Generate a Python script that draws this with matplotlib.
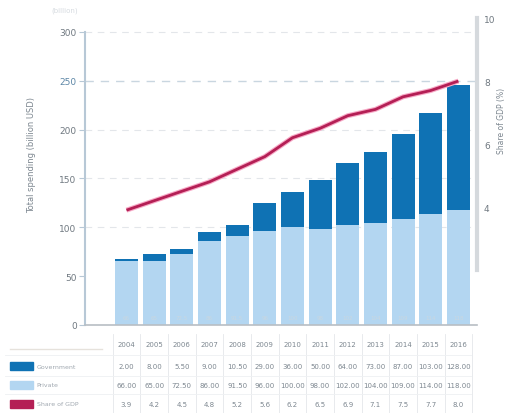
import matplotlib
matplotlib.use("Agg")
import matplotlib.pyplot as plt
import matplotlib.transforms as mtransforms
import matplotlib.patheffects as pe
import numpy as np

years = ["2004", "2005", "2006", "2007", "2008", "2009", "2010",
         "2011", "2012", "2013", "2014", "2015", "2016"]
base_values = [66, 65, 72.5, 86, 91.5, 96, 100, 98, 102, 104, 109, 114, 118]
top_values = [2, 8, 5.5, 9, 10.5, 29, 36, 50, 64, 73, 87, 103, 128]
share_values = [3.9, 4.2, 4.5, 4.8, 5.2, 5.6, 6.2, 6.5, 6.9, 7.1, 7.5, 7.7, 8.0]
left_ticks = [0, 50, 100, 150, 200, 250, 300]
right_ticks = [4, 6, 8, 10]
row_labels = ["Government", "Private", "Share of GDP"]

LIGHT = "#b3d6f1"
DARK = "#0f72b4"
LINE = "#b41f55"
TXT = "#7d8790"

fig = plt.figure(figsize=(5.09, 4.14), dpi=100)
ax = fig.add_axes([0.167, 0.2126, 0.770, 0.751])
x = np.arange(len(years))

ax.bar(x, base_values, width=0.83, color=LIGHT, edgecolor="none", zorder=2)
ax.bar(x, top_values, bottom=base_values, width=0.83, color=DARK,
       edgecolor="none", zorder=2)
# small labels near bar bottoms
for xi, v in zip(x, base_values):
    ax.text(xi, 8, f"{v:g}", ha="center", va="center", fontsize=4,
            color="#c9d6e0", zorder=3)

ax.set_xlim(-1.5, 12.67)
ax.set_ylim(0, 318.3)
ax.set_yticks(left_ticks)
ax.set_yticklabels([str(t) for t in left_ticks], fontsize=6.5, color="#6f7880")
for lbl in ax.get_yticklabels():
    if lbl.get_text() == "250":
        lbl.set_color("#5c86a6")
ax.set_xticks([])
for yv in [100, 150, 200, 300]:
    ax.axhline(yv, color="#e3e6ea", lw=0.8, ls=(0, (6, 5)), zorder=1)
ax.axhline(250, color="#c9d6e0", lw=1.0, ls=(0, (6, 5)), zorder=1)

for s in ["top", "right"]:
    ax.spines[s].set_visible(False)
ax.spines["left"].set_color("#b7c8d6")
ax.spines["left"].set_linewidth(1.5)
ax.spines["left"].set_bounds(0, 300)
ax.spines["bottom"].set_color("#b8bec4")
ax.spines["bottom"].set_linewidth(1.2)
ax.tick_params(axis="y", length=4, color="#b7c8d6", pad=2)
ax.set_ylabel("Total spending (billion USD)", fontsize=6, color=TXT)
ax.yaxis.set_label_coords(-0.125, 0.55)

ax2 = ax.twinx()
ax2.set_ylim(0.254, 10.127)
ax2.plot(x, share_values, color=LINE, lw=2.0, zorder=5, solid_capstyle="butt",
         path_effects=[pe.Stroke(linewidth=3.6, foreground="#f7a9c6"), pe.Normal()])
ax2.set_yticks(right_ticks)
ax2.set_yticklabels([str(t) for t in right_ticks], fontsize=6.5, color="#6f7880")
for s in ["top", "left", "bottom"]:
    ax2.spines[s].set_visible(False)
ax2.spines["right"].set_color("#d5d9dd")
ax2.spines["right"].set_linewidth(3)
ax2.spines["right"].set_bounds(2, 10)
ax2.tick_params(axis="y", length=0, pad=5)
ax2.set_ylabel("Share of GDP (%)", fontsize=5.5, color=TXT)
ax2.yaxis.set_label_coords(1.05, 0.66)
ax2.set_xlim(-1.5, 12.67)

fig.text(0.10, 0.97, "(billion)", fontsize=5, color="#d6dbe0")

# data table below the chart
tr = mtransforms.blended_transform_factory(ax.transData, fig.transFigure)
row_y = [0.167, 0.1135, 0.068, 0.022]
for i, yr in enumerate(years):
    ax.text(i, row_y[0], yr, transform=tr, ha="center", va="center",
            fontsize=5, color=TXT, clip_on=False)
    ax.text(i, row_y[1], f"{top_values[i]:.2f}", transform=tr, ha="center",
            va="center", fontsize=5, color=TXT, clip_on=False)
    ax.text(i, row_y[2], f"{base_values[i]:.2f}", transform=tr, ha="center",
            va="center", fontsize=5, color=TXT, clip_on=False)
    ax.text(i, row_y[3], f"{share_values[i]:.1f}", transform=tr, ha="center",
            va="center", fontsize=5, color=TXT, clip_on=False)
for i in range(len(years) + 1):
    ax.plot([i - 0.5, i - 0.5], [0.0, 0.19], transform=tr, color="#e4e7ea",
            lw=0.6, clip_on=False)
for yl in [0.14, 0.09, 0.045]:
    fig.add_artist(plt.Line2D([0.01, 0.925], [yl, yl], color="#eef0f2", lw=0.6))
fig.add_artist(plt.Line2D([0.02, 0.20], [0.155, 0.155], color="#e6e2dc", lw=1.0))

swatch_colors = [DARK, LIGHT, LINE]
for yv, c, lab in zip(row_y[1:], swatch_colors, row_labels):
    fig.add_artist(plt.Rectangle((0.02, yv - 0.01), 0.045, 0.02, color=c,
                                 transform=fig.transFigure))
    fig.text(0.072, yv, lab, fontsize=4.5, color="#a0a8b0", va="center")

fig.savefig("out.png", dpi=100)
